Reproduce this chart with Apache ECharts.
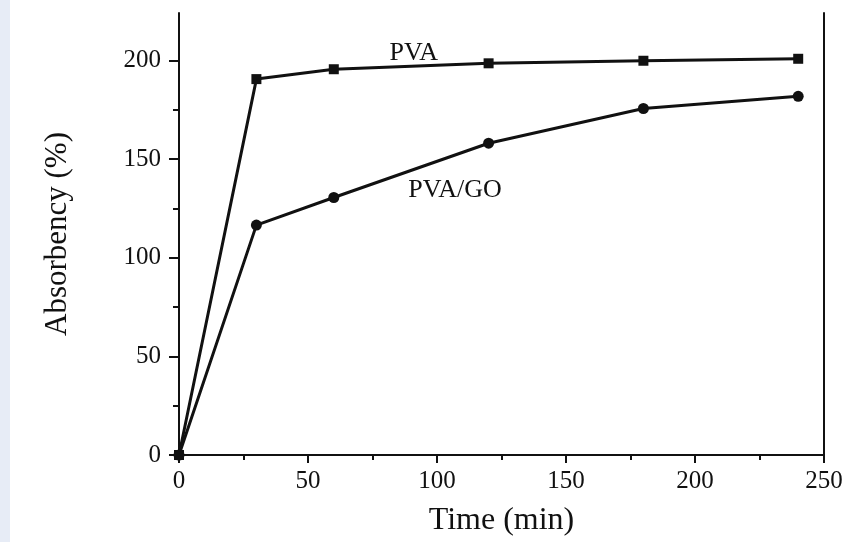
<!DOCTYPE html>
<html>
<head>
<meta charset="utf-8">
<script src="https://cdn.jsdelivr.net/npm/echarts@6/dist/echarts.min.js"></script>
<style>
  html, body { margin: 0; padding: 0; background: #fff; }
  #chart { width: 848px; height: 542px; }
</style>
</head>
<body>
<div id="chart"></div>
<script>
// time points (min)
const timeMin = [0, 30, 60, 120, 180, 240];
// absorbency (%)
const pvaValues = [0, 190.5, 195.5, 198.5, 199.8, 200.8];
const pvaGoValues = [0, 116.5, 130.5, 158, 175.6, 181.8];

// axis ticks
const yMajorTicks = [0, 50, 100, 150, 200];
const yMinorTicks = [25, 75, 125, 175];

// curve labels: [time, absorbency] where the text sits
const pvaLabelAt = [91, 203.5];
const pvaGoLabelAt = [107, 134];

const serif = '"Liberation Serif", "Times New Roman", serif';

const chart = echarts.init(document.getElementById('chart'));

const pairs = (xs, ys) => xs.map((x, i) => [x, ys[i]]);

const textLabel = (coord, text) => ({
  silent: true,
  symbol: 'rect',
  symbolSize: 0,
  data: [{
    coord: coord,
    label: {
      show: true,
      formatter: text,
      position: 'inside',
      color: '#111',
      fontFamily: serif,
      fontSize: 26
    }
  }]
});

const option = {
  animation: false,
  backgroundColor: '#fff',
  graphic: [{
    type: 'rect',
    left: 0,
    top: 0,
    shape: { width: 10, height: 542 },
    style: { fill: '#e7ecf6' },
    silent: true
  }],
  grid: { left: 179, top: 13, right: 24, bottom: 87 },
  xAxis: [{
    type: 'value',
    min: 0,
    max: 250,
    interval: 50,
    name: 'Time (min)',
    nameLocation: 'middle',
    nameGap: 50,
    nameTextStyle: { fontFamily: serif, fontSize: 32, color: '#111' },
    axisLine: { lineStyle: { color: '#111', width: 2 } },
    axisTick: { inside: false, length: 8, lineStyle: { color: '#111', width: 2 } },
    minorTick: { show: true, splitNumber: 2, length: 5, lineStyle: { color: '#111', width: 2 } },
    axisLabel: { fontFamily: serif, fontSize: 25, color: '#111', margin: 14 },
    splitLine: { show: false }
  }, {
    type: 'value',
    position: 'top',
    min: 0,
    max: 250,
    axisLine: { show: true, lineStyle: { color: '#111', width: 2 } },
    axisTick: { show: false },
    axisLabel: { show: false },
    splitLine: { show: false }
  }],
  yAxis: [{
    type: 'value',
    min: 0,
    max: 224,
    name: 'Absorbency (%)',
    nameLocation: 'middle',
    nameGap: 106,
    nameTextStyle: { fontFamily: serif, fontSize: 31, color: '#111' },
    axisLine: { show: true, lineStyle: { color: '#111', width: 2 } },
    axisTick: { show: true, length: 10, customValues: yMajorTicks, lineStyle: { color: '#111', width: 2 } },
    axisLabel: { fontFamily: serif, fontSize: 25, color: '#111', margin: 18, customValues: yMajorTicks },
    splitLine: { show: false }
  }, {
    type: 'value',
    position: 'left',
    min: 0,
    max: 224,
    axisLine: { show: false },
    axisTick: { show: true, length: 6, customValues: yMinorTicks, lineStyle: { color: '#111', width: 2 } },
    axisLabel: { show: false },
    splitLine: { show: false }
  }, {
    type: 'value',
    position: 'right',
    min: 0,
    max: 224,
    axisLine: { show: true, lineStyle: { color: '#111', width: 2 } },
    axisTick: { show: false },
    axisLabel: { show: false },
    splitLine: { show: false }
  }],
  series: [{
    name: 'PVA',
    type: 'line',
    data: pairs(timeMin, pvaValues),
    symbol: 'rect',
    symbolSize: 10,
    showAllSymbol: true,
    lineStyle: { color: '#111', width: 3 },
    itemStyle: { color: '#111' },
    markPoint: textLabel(pvaLabelAt, 'PVA')
  }, {
    name: 'PVA/GO',
    type: 'line',
    data: pairs(timeMin, pvaGoValues),
    symbol: 'circle',
    symbolSize: 11,
    showAllSymbol: true,
    lineStyle: { color: '#111', width: 3 },
    itemStyle: { color: '#111' },
    markPoint: textLabel(pvaGoLabelAt, 'PVA/GO')
  }]
};

chart.setOption(option);
</script>
</body>
</html>
